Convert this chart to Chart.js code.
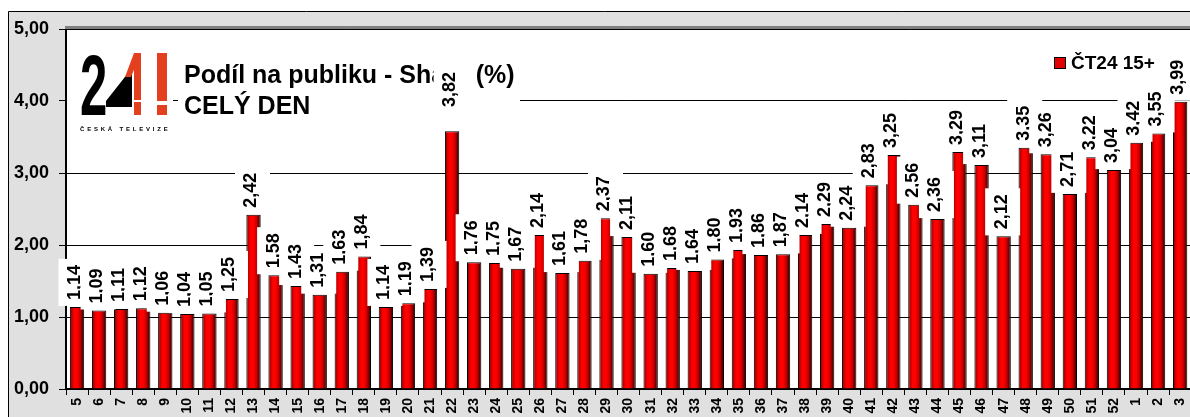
<!DOCTYPE html>
<html>
<head>
<meta charset="utf-8">
<title>ČT24 - podíl na publiku</title>
<script src="https://cdn.jsdelivr.net/npm/chart.js@4/dist/chart.umd.min.js"></script>
<style>
  html, body { margin: 0; padding: 0; background: #fff; overflow: hidden; }
  canvas { display: block; }
</style>
</head>
<body>
<canvas id="shareChart" width="1200" height="417"></canvas>
<script>
// Weekly share of ČT24 (15+), weeks 5..52 and 1..3 of the next year
const weeks = [
  '5', '6', '7', '8', '9', '10', '11', '12', '13', '14', '15', '16', '17', '18', '19', '20',
  '21', '22', '23', '24', '25', '26', '27', '28', '29', '30', '31', '32', '33', '34', '35', '36',
  '37', '38', '39', '40', '41', '42', '43', '44', '45', '46', '47', '48', '49', '50', '51', '52',
  '1', '2', '3'
];

// bar heights as drawn
const shareValues = [
  1.14, 1.09, 1.11, 1.12, 1.06, 1.04, 1.05, 1.25, 2.42, 1.58, 1.43, 1.31, 1.63, 1.84, 1.14, 1.19,
  1.39, 3.58, 1.76, 1.75, 1.67, 2.14, 1.61, 1.78, 2.37, 2.11, 1.60, 1.68, 1.64, 1.80, 1.93, 1.86,
  1.87, 2.14, 2.29, 2.24, 2.83, 3.25, 2.56, 2.36, 3.29, 3.11, 2.12, 3.35, 3.26, 2.71, 3.22, 3.04,
  3.42, 3.55, 3.99
];

// numbers printed above the bars (week 22 is labelled higher than its bar)
const labelValues = [
  1.14, 1.09, 1.11, 1.12, 1.06, 1.04, 1.05, 1.25, 2.42, 1.58, 1.43, 1.31, 1.63, 1.84, 1.14, 1.19,
  1.39, 3.82, 1.76, 1.75, 1.67, 2.14, 1.61, 1.78, 2.37, 2.11, 1.60, 1.68, 1.64, 1.80, 1.93, 1.86,
  1.87, 2.14, 2.29, 2.24, 2.83, 3.25, 2.56, 2.36, 3.29, 3.11, 2.12, 3.35, 3.26, 2.71, 3.22, 3.04,
  3.42, 3.55, 3.99
];

const seriesName = 'ČT24 15+';
const titleLines = ['Podíl na publiku - Share (%)', 'CELÝ DEN'];

const FONT = "'Liberation Sans', Arial, sans-serif";
const BAR_PCT = 0.65;

function czech(v) {
  return v.toFixed(2).replace('.', ',');
}

function barGradient(context) {
  const chart = context.chart;
  const xScale = chart.scales.x;
  if (!xScale || context.dataIndex === undefined) return '#e00000';
  const cx = xScale.getPixelForValue(context.dataIndex);
  const half = (xScale.width / weeks.length) * BAR_PCT / 2;
  if (!isFinite(cx) || !isFinite(half) || half <= 0) return '#e00000';
  const g = chart.ctx.createLinearGradient(cx - half, 0, cx + half, 0);
  g.addColorStop(0, '#4a0000');
  g.addColorStop(0.12, '#b80000');
  g.addColorStop(0.3, '#ff0000');
  g.addColorStop(0.5, '#ff0000');
  g.addColorStop(0.72, '#c40000');
  g.addColorStop(0.9, '#5a0000');
  g.addColorStop(1, '#200000');
  return g;
}

// Helpers for the overlay drawing

function drawLogo(ctx) {
  ctx.save();
  ctx.fillStyle = '#fff';
  ctx.fillRect(67, 40, 106, 96);

  // black "2"
  ctx.fillStyle = '#000';
  ctx.save();
  ctx.translate(80, 115);
  ctx.scale(0.57, 1);
  ctx.font = 'bold 86px ' + FONT;
  ctx.fillText('2', 0, 0);
  ctx.restore();

  // black triangle of the "4"
  ctx.beginPath();
  ctx.moveTo(106, 107);
  ctx.lineTo(106, 101);
  ctx.lineTo(132, 68);
  ctx.lineTo(132, 107);
  ctx.closePath();
  ctx.fill();

  // red strokes: upper diagonal and stem of the "4", then the "!"
  ctx.fillStyle = '#e2401f';
  ctx.beginPath();
  ctx.moveTo(125, 77);
  ctx.lineTo(134, 53);
  ctx.lineTo(141, 53);
  ctx.lineTo(131, 77);
  ctx.closePath();
  ctx.fill();
  ctx.fillRect(134, 53, 7, 62);
  ctx.fillRect(157, 53, 10, 48);
  ctx.fillRect(157, 105, 10, 10);
  ctx.fillStyle = '#fff';
  ctx.fillRect(134, 100, 7, 2);

  // small caption under the logo
  ctx.fillStyle = '#000';
  ctx.font = 'bold 6px ' + FONT;
  ctx.textBaseline = 'alphabetic';
  const caption = 'ČESKÁ TELEVIZE';
  let x = 80;
  for (const ch of caption) {
    ctx.fillText(ch, x, 131);
    x += ctx.measureText(ch).width + 2.8;
  }
  ctx.restore();
}

function drawTitle(ctx) {
  ctx.save();
  ctx.fillStyle = '#fff';
  ctx.fillRect(178, 55, 342, 70);
  ctx.fillStyle = '#000';
  ctx.font = 'bold 25px ' + FONT;
  ctx.textBaseline = 'alphabetic';
  ctx.fillText(titleLines[0], 184, 83);
  ctx.fillText(titleLines[1], 184, 114);
  ctx.restore();
}

function drawLegend(ctx, chart) {
  const ds = chart.data.datasets[0];
  ctx.save();
  ctx.fillStyle = '#e00000';
  ctx.fillRect(1054, 57, 11, 11);
  ctx.strokeStyle = '#000';
  ctx.lineWidth = 1;
  ctx.strokeRect(1054.5, 57.5, 11, 11);
  ctx.fillStyle = '#000';
  ctx.font = 'bold 19px ' + FONT;
  ctx.textBaseline = 'alphabetic';
  ctx.fillText(ds.label, 1071, 69);
  ctx.restore();
}

function drawValueLabels(ctx, chart) {
  const meta = chart.getDatasetMeta(0);
  const yScale = chart.scales.y;
  ctx.save();
  ctx.font = 'bold 18px ' + FONT;
  meta.data.forEach((bar, i) => {
    const text = czech(labelValues[i]);
    const len = ctx.measureText(text).width;
    const bottom = yScale.getPixelForValue(labelValues[i]) - 1;
    const h = len + 12;
    ctx.fillStyle = '#fff';
    ctx.fillRect(bar.x - 18.5, bottom - h, 35, h);
    ctx.save();
    ctx.translate(bar.x - 3, bottom - h / 2);
    ctx.rotate(-Math.PI / 2);
    ctx.fillStyle = '#000';
    ctx.textAlign = 'center';
    ctx.textBaseline = 'middle';
    ctx.fillText(text, 0, 1);
    ctx.restore();
  });
  ctx.restore();
}

const framePlugin = {
  id: 'frame',
  beforeDraw(chart) {
    const { ctx, width, height, chartArea } = chart;
    ctx.save();
    ctx.fillStyle = '#fff';
    ctx.fillRect(0, 0, width, height);
    ctx.fillStyle = '#e0e0e0';
    ctx.fillRect(8, 11, width - 8, height - 11);
    ctx.strokeStyle = '#000';
    ctx.lineWidth = 1;
    ctx.beginPath();
    ctx.moveTo(8.5, height);
    ctx.lineTo(8.5, 11.5);
    ctx.lineTo(width, 11.5);
    ctx.stroke();
    ctx.fillStyle = '#fff';
    ctx.fillRect(chartArea.left, chartArea.top, chartArea.right - chartArea.left + 6, chartArea.bottom - chartArea.top);
    ctx.restore();
  },
  afterDraw(chart) {
    const { ctx, chartArea, width } = chart;
    ctx.save();
    ctx.strokeStyle = '#808080';
    ctx.lineWidth = 3;
    ctx.beginPath();
    ctx.moveTo(chartArea.left - 1, chartArea.top - 1.5);
    ctx.lineTo(width, chartArea.top - 1.5);
    ctx.stroke();
    ctx.restore();

    drawLogo(ctx);
    drawTitle(ctx);
    drawLegend(ctx, chart);
    drawValueLabels(ctx, chart);
  }
};

new Chart(document.getElementById('shareChart'), {
  type: 'bar',
  data: {
    labels: weeks,
    datasets: [{
      label: seriesName,
      data: shareValues,
      backgroundColor: barGradient,
      borderColor: '#000',
      borderWidth: 1,
      borderSkipped: 'bottom',
      barPercentage: BAR_PCT,
      categoryPercentage: 1
    }]
  },
  options: {
    responsive: false,
    animation: false,
    layout: { padding: { top: 29, right: 6, left: 0, bottom: 0 } },
    plugins: {
      legend: { display: false },
      tooltip: { enabled: false }
    },
    scales: {
      x: {
        grid: { offset: true, drawOnChartArea: false, tickLength: 6, color: '#000', tickColor: '#000' },
        border: { color: '#000', width: 1.5 },
        ticks: {
          autoSkip: false,
          minRotation: 90,
          maxRotation: 90,
          padding: 3,
          color: '#000',
          font: { family: FONT, size: 14, weight: 'bold' }
        },
        afterFit: scale => { scale.height = 28; }
      },
      y: {
        min: 0,
        max: 5,
        grid: { color: '#000', lineWidth: 1, tickLength: 7, tickColor: '#000' },
        border: { color: '#000', width: 2 },
        ticks: {
          stepSize: 1,
          padding: 10,
          color: '#000',
          font: { family: FONT, size: 18, weight: 'bold' },
          callback: v => czech(v)
        },
        afterFit: scale => { scale.width = 66; }
      }
    }
  },
  plugins: [framePlugin]
});
</script>
</body>
</html>
